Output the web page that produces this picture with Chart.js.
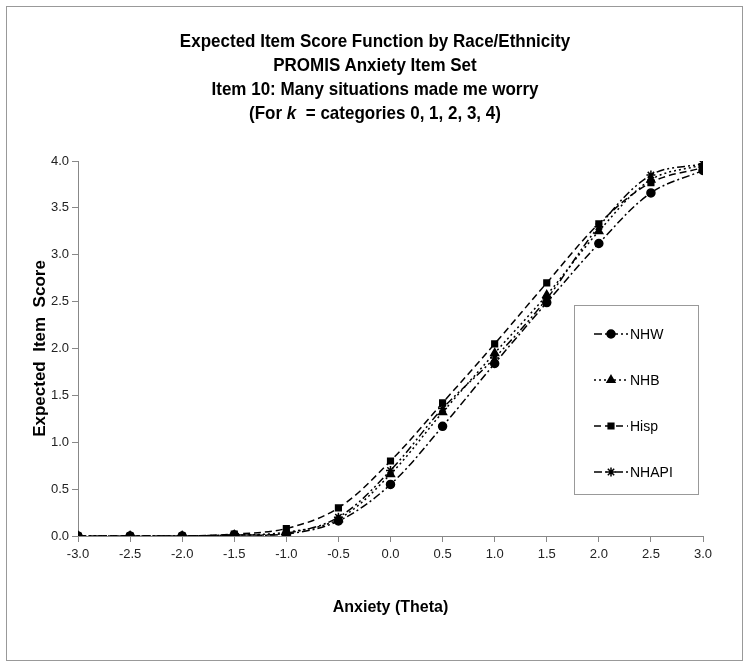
<!DOCTYPE html>
<html>
<head>
<meta charset="utf-8">
<script src="https://cdn.jsdelivr.net/npm/chart.js@4/dist/chart.umd.min.js"></script>
<style>
  html, body { margin: 0; padding: 0; background: #fff; }
  #wrap { position: relative; width: 750px; height: 669px; overflow: hidden; }
  #frame { position: absolute; left: 6px; top: 6px; width: 737px; height: 655px; border: 1px solid #999; box-sizing: border-box; pointer-events: none; }
  #title { position: absolute; left: 0; top: 29px; width: 750px; text-align: center;
           font-family: "Liberation Sans", Arial, sans-serif;
           font-weight: bold; font-size: 19px; line-height: 24px; color: #000;
           transform: scaleX(0.895); transform-origin: 375px 0; }
  canvas { position: absolute; left: 0; top: 0; }
</style>
</head>
<body>
<div id="wrap">
  <canvas id="c" width="750" height="669"></canvas>
  <div id="title">
    <div>Expected Item Score Function by Race/Ethnicity</div>
    <div>PROMIS Anxiety Item Set</div>
    <div>Item 10: Many situations made me worry</div>
    <div>(For <i>k</i> &nbsp;= categories 0, 1, 2, 3, 4)</div>
  </div>
  <div id="frame"></div>
</div>
<script>
const theta = [-3.0, -2.5, -2.0, -1.5, -1.0, -0.5, 0.0, 0.5, 1.0, 1.5, 2.0, 2.5, 3.0];
const seriesNames = ["NHW", "NHB", "Hisp", "NHAPI"];
const nhw   = [0.00, 0.00, 0.00, 0.01, 0.02, 0.16, 0.55, 1.17, 1.84, 2.49, 3.12, 3.66, 3.90];
const nhb   = [0.00, 0.00, 0.00, 0.01, 0.04, 0.18, 0.66, 1.32, 1.95, 2.57, 3.25, 3.80, 3.96];
const hisp  = [0.00, 0.00, 0.00, 0.02, 0.08, 0.30, 0.80, 1.42, 2.05, 2.70, 3.33, 3.77, 3.93];
const nhapi = [0.00, 0.00, 0.00, 0.01, 0.03, 0.20, 0.70, 1.36, 1.90, 2.53, 3.30, 3.85, 3.97];
const yTicks = [0, 0.5, 1.0, 1.5, 2.0, 2.5, 3.0, 3.5, 4.0];
const xTicks = theta;

const styles = [
  { dash: [8, 3, 2, 3], point: 'circle', radius: 4 },
  { dash: [2, 3], point: 'triangle', radius: 4.5 },
  { dash: [7, 4], point: 'rect', radius: 4 },
  { dash: [8, 3, 2, 3, 2, 3], point: 'star', radius: 4.5 }
];
const values = [nhw, nhb, hisp, nhapi];

const datasets = seriesNames.map((name, i) => ({
  label: name,
  data: theta.map((t, j) => ({ x: t, y: values[i][j] })),
  borderColor: '#000',
  backgroundColor: '#000',
  borderWidth: 1.5,
  borderDash: styles[i].dash,
  pointStyle: styles[i].point,
  pointRadius: styles[i].radius,
  pointBorderWidth: 1.5,
  pointBorderColor: '#000',
  pointBackgroundColor: '#000',
  tension: 0.35,
  fill: false
}));

const legendBox = {
  id: 'legendBox',
  afterDraw(chart) {
    const ctx = chart.ctx;
    const a = chart.chartArea;
    const x0 = a.right - 129;
    const y0 = a.top + 144;
    const w = 124, h = 189;
    ctx.save();
    ctx.strokeStyle = '#999';
    ctx.lineWidth = 1;
    ctx.setLineDash([]);
    ctx.strokeRect(Math.round(x0) + 0.5, Math.round(y0) + 0.5, w, h);
    chart.data.datasets.forEach((ds, i) => {
      const cy = y0 + 29 + i * 46;
      const lx = x0 + 20;
      ctx.strokeStyle = '#000';
      ctx.lineWidth = 1.5;
      ctx.setLineDash(ds.borderDash);
      ctx.beginPath();
      ctx.moveTo(lx, cy);
      ctx.lineTo(lx + 34, cy);
      ctx.stroke();
      ctx.setLineDash([]);
      Chart.helpers.drawPoint(ctx, { pointStyle: ds.pointStyle, radius: ds.pointRadius, borderWidth: 1.5, rotation: 0 }, lx + 17, cy);
      ctx.fillStyle = '#000';
      ctx.font = '14px "Liberation Sans", Arial, sans-serif';
      ctx.textBaseline = 'middle';
      ctx.textAlign = 'left';
      ctx.fillText(ds.label, lx + 36, cy + 1);
    });
    ctx.restore();
  }
};

new Chart(document.getElementById('c'), {
  type: 'line',
  data: { datasets },
  options: {
    responsive: false,
    animation: false,
    layout: { padding: { left: 0, top: 161, right: 47, bottom: 48 } },
    plugins: { legend: { display: false }, tooltip: { enabled: false }, title: { display: false } },
    scales: {
      x: {
        type: 'linear',
        min: -3, max: 3,
        afterBuildTicks: s => { s.ticks = xTicks.map(v => ({ value: v })); },
        afterFit: s => { s.height = 669 - 48 - 536; },
        ticks: { color: '#222', font: { family: '"Liberation Sans", Arial, sans-serif', size: 13 }, padding: 5,
                 callback: v => Number(v).toFixed(1), maxRotation: 0, autoSkip: false },
        grid: { display: true, drawOnChartArea: false, drawTicks: true, tickLength: 6, color: '#888', lineWidth: 1 },
        border: { display: true, color: '#888', width: 1 },
        title: { display: true, text: 'Anxiety (Theta)', color: '#000',
                 font: { family: '"Liberation Sans", Arial, sans-serif', size: 16, weight: 'bold' },
                 padding: { top: 0, bottom: 4 } }
      },
      y: {
        type: 'linear',
        min: 0, max: 4,
        afterBuildTicks: s => { s.ticks = yTicks.map(v => ({ value: v })); },
        afterFit: s => { s.width = 78; },
        ticks: { color: '#222', font: { family: '"Liberation Sans", Arial, sans-serif', size: 13 }, padding: 3,
                 callback: v => Number(v).toFixed(1) },
        grid: { display: true, drawOnChartArea: false, drawTicks: true, tickLength: 6, color: '#888', lineWidth: 1 },
        border: { display: true, color: '#888', width: 1 },
        title: { display: true, text: 'Expected  Item  Score', color: '#000',
                 font: { family: '"Liberation Sans", Arial, sans-serif', size: 17, weight: 'bold' },
                 padding: { top: 30, bottom: 0 } }
      }
    }
  },
  plugins: [legendBox]
});
</script>
</body>
</html>
